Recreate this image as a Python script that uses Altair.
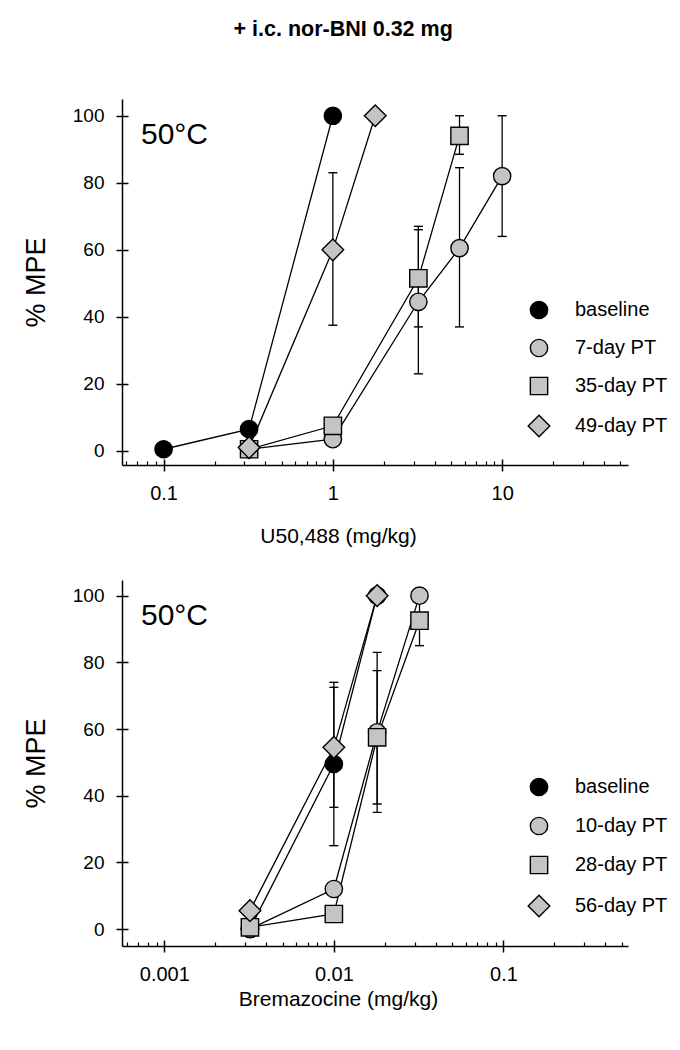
import altair as alt
import pandas as pd

FONT = "Liberation Sans"
TITLE = "+ i.c. nor-BNI 0.32 mg"
TEMP_LABEL = "50°C"
Y_TITLE = "% MPE"

# ---------------- top panel : U50,488 ----------------
U_TITLE = "U50,488 (mg/kg)"
u_series = ["baseline", "7-day PT", "35-day PT", "49-day PT"]

u_base_dose = [0.1, 0.32, 1.0]
u_base_mpe = [0.5, 6.5, 100]
u_base_lo = [None, None, None]
u_base_hi = [None, None, None]

u_d7_dose = [0.32, 1.0, 3.2, 5.6, 10]
u_d7_mpe = [0.5, 3.5, 44.5, 60.5, 82]
u_d7_lo = [None, None, 23, 37, 64]
u_d7_hi = [None, None, 67, 84.5, 100]

u_d35_dose = [0.32, 1.0, 3.2, 5.6]
u_d35_mpe = [0.5, 7.5, 51.5, 94]
u_d35_lo = [None, None, 37, 88.5]
u_d35_hi = [None, None, 66, 100]

u_d49_dose = [0.32, 1.0, 1.78]
u_d49_mpe = [1, 60, 100]
u_d49_lo = [None, 37.5, None]
u_d49_hi = [None, 83, None]

u_major = [0.1, 1, 10]
u_minor = [0.06, 0.07, 0.08, 0.09, 0.2, 0.3, 0.4, 0.5, 0.6, 0.7, 0.8, 0.9,
           2, 3, 4, 5, 6, 7, 8, 9, 20, 30, 40, 50]
u_xdomain = [0.0568, 55.4]
u_ydomain = [-4.2, 105]

# ---------------- bottom panel : Bremazocine ----------------
B_TITLE = "Bremazocine (mg/kg)"
b_series = ["baseline", "10-day PT", "28-day PT", "56-day PT"]

b_base_dose = [0.0032, 0.01, 0.018]
b_base_mpe = [0, 49.5, 100]
b_base_lo = [None, 25, None]
b_base_hi = [None, 74, None]

b_d10_dose = [0.0032, 0.01, 0.018, 0.032]
b_d10_mpe = [0, 12, 59, 100]
b_d10_lo = [None, None, 35, None]
b_d10_hi = [None, None, 83, None]

b_d28_dose = [0.0032, 0.01, 0.018, 0.032]
b_d28_mpe = [0.5, 4.5, 57.5, 92.5]
b_d28_lo = [None, None, 37.5, 85]
b_d28_hi = [None, None, 77.5, 100]

b_d56_dose = [0.0032, 0.01, 0.018]
b_d56_mpe = [5.5, 54.5, 100]
b_d56_lo = [None, 36.5, None]
b_d56_hi = [None, 72.5, None]

b_major = [0.001, 0.01, 0.1]
b_minor = [0.0006, 0.0007, 0.0008, 0.0009, 0.002, 0.003, 0.004, 0.005, 0.006,
           0.007, 0.008, 0.009, 0.02, 0.03, 0.04, 0.05, 0.06, 0.07, 0.08, 0.09,
           0.2, 0.3, 0.4, 0.5]
b_xdomain = [0.000563, 0.543]
b_ydomain = [-5.1, 104.7]

y_ticks = [0, 20, 40, 60, 80, 100]

GRAY = "#c4c4c4"
fills = ["black", GRAY, GRAY, GRAY]
strokes = ["black", "black", "black", "black"]
DIAMOND = "M0,-1.25L1.25,0L0,1.25L-1.25,0Z"
shapes = ["circle", "circle", "square", DIAMOND]


def frames(names, doses, mpes, los, his):
    pts, rules, caps = [], [], []
    for n, ds, ms, ls, hs in zip(names, doses, mpes, los, his):
        for d, m, lo, hi in zip(ds, ms, ls, hs):
            pts.append({"series": n, "dose": d, "mpe": m})
            if lo is not None:
                rules.append({"series": n, "dose": d, "lo": lo, "hi": hi})
                caps.append({"dose": d, "val": lo})
                caps.append({"dose": d, "val": hi})
    return pd.DataFrame(pts), pd.DataFrame(rules), pd.DataFrame(caps)


def panel(names, doses, mpes, los, his, xdomain, ydomain, major, minor,
          xtitle, lab_pad, title_pad, leg_y, row_pad):
    df, er, cp = frames(names, doses, mpes, los, his)
    xs = alt.Scale(type="log", domain=xdomain, nice=False)
    ys = alt.Scale(domain=ydomain, nice=False, zero=False)

    ax_x = alt.Axis(orient="bottom", values=major, format="~g", tickSize=6,
                    tickWidth=1.5, tickColor="black", domainColor="black",
                    domainWidth=1.5, labelFontSize=20, labelFont=FONT,
                    labelColor="black", labelPadding=lab_pad, title=xtitle,
                    titleFont=FONT, titleFontSize=21, titleFontWeight="normal",
                    titleColor="black", titlePadding=title_pad, titleX=216,
                    grid=False)
    ax_y = alt.Axis(orient="left", values=y_ticks, tickSize=6, tickWidth=1.5,
                    tickColor="black", domainColor="black", domainWidth=1.5,
                    labelFontSize=19, labelFont=FONT, labelColor="black",
                    labelPadding=12, title=Y_TITLE, titleFont=FONT,
                    titleFontSize=27, titleFontWeight="normal",
                    titleColor="black", titlePadding=22, grid=False)
    in_x = alt.Axis(orient="bottom", values=major, tickSize=6, tickWidth=1.5,
                    tickColor="black", domain=False, labels=False, title=None,
                    offset=-6, grid=False)
    in_y = alt.Axis(orient="left", values=y_ticks, tickSize=6, tickWidth=1.5,
                    tickColor="black", domain=False, labels=False, title=None,
                    offset=-6, grid=False)
    mn_x = alt.Axis(orient="bottom", values=minor, tickSize=4, tickWidth=1.2,
                    tickColor="black", domain=False, labels=False, title=None,
                    offset=-4, grid=False)

    lines = alt.Chart(df).mark_line(color="black", strokeWidth=1.3).encode(
        x=alt.X("dose:Q", scale=xs, axis=ax_x),
        y=alt.Y("mpe:Q", scale=ys, axis=ax_y),
        detail="series:N",
    )
    rules = alt.Chart(er).mark_rule(color="black", strokeWidth=1.3).encode(
        x=alt.X("dose:Q", scale=xs, axis=in_x),
        y=alt.Y("lo:Q", scale=ys, axis=in_y),
        y2="hi:Q",
    )
    caps = alt.Chart(cp).mark_tick(color="black", orient="horizontal", size=9,
                                   thickness=1.4, opacity=1).encode(
        x=alt.X("dose:Q", scale=xs, axis=mn_x),
        y=alt.Y("val:Q", scale=ys, axis=None),
    )
    leg = alt.Legend(title=None, orient="none", legendX=407, legendY=leg_y,
                     labelFont=FONT, labelFontSize=20, labelColor="black",
                     symbolSize=300, symbolStrokeWidth=1.4, symbolOpacity=1,
                     rowPadding=row_pad, labelOffset=26, padding=0)
    pts = alt.Chart(df).mark_point(filled=True, opacity=1, size=300,
                                   strokeWidth=1.4).encode(
        x=alt.X("dose:Q", scale=xs, axis=None),
        y=alt.Y("mpe:Q", scale=ys, axis=None),
        shape=alt.Shape("series:N", scale=alt.Scale(domain=names, range=shapes),
                        legend=leg),
        fill=alt.Fill("series:N", scale=alt.Scale(domain=names, range=fills),
                      legend=leg),
        stroke=alt.Stroke("series:N",
                          scale=alt.Scale(domain=names, range=strokes),
                          legend=leg),
    )
    temp = alt.Chart(pd.DataFrame({"t": [TEMP_LABEL]})).mark_text(
        font=FONT, fontSize=30, align="left", baseline="alphabetic",
        color="black").encode(text="t:N", x=alt.value(19), y=alt.value(45))

    return alt.layer(lines, rules, caps, pts, temp).resolve_axis(
        x="independent", y="independent").properties(width=506, height=366)


top = panel(u_series,
            [u_base_dose, u_d7_dose, u_d35_dose, u_d49_dose],
            [u_base_mpe, u_d7_mpe, u_d35_mpe, u_d49_mpe],
            [u_base_lo, u_d7_lo, u_d35_lo, u_d49_lo],
            [u_base_hi, u_d7_hi, u_d35_hi, u_d49_hi],
            u_xdomain, u_ydomain, u_major, u_minor, U_TITLE, 12, 22, 201, 14)

bottom = panel(b_series,
               [b_base_dose, b_d10_dose, b_d28_dose, b_d56_dose],
               [b_base_mpe, b_d10_mpe, b_d28_mpe, b_d56_mpe],
               [b_base_lo, b_d10_lo, b_d28_lo, b_d56_lo],
               [b_base_hi, b_d10_hi, b_d28_hi, b_d56_hi],
               b_xdomain, b_ydomain, b_major, b_minor, B_TITLE, 12, 4, 197, 15)

chart = alt.vconcat(top, bottom, spacing=34).resolve_scale(
    x="independent", y="independent", shape="independent",
    fill="independent", stroke="independent"
).resolve_legend(shape="independent", fill="independent",
                 stroke="independent").properties(
    title=alt.TitleParams(TITLE, font=FONT, fontSize=21.5, fontWeight="bold",
                          anchor="middle", color="black", offset=59, dx=-2),
    padding={"left": 14, "top": 10, "right": 0, "bottom": 5},
).configure(background="white", view=alt.ViewConfig(stroke=None))

chart.save("out.html", embed_options={"renderer": "svg", "actions": False})
